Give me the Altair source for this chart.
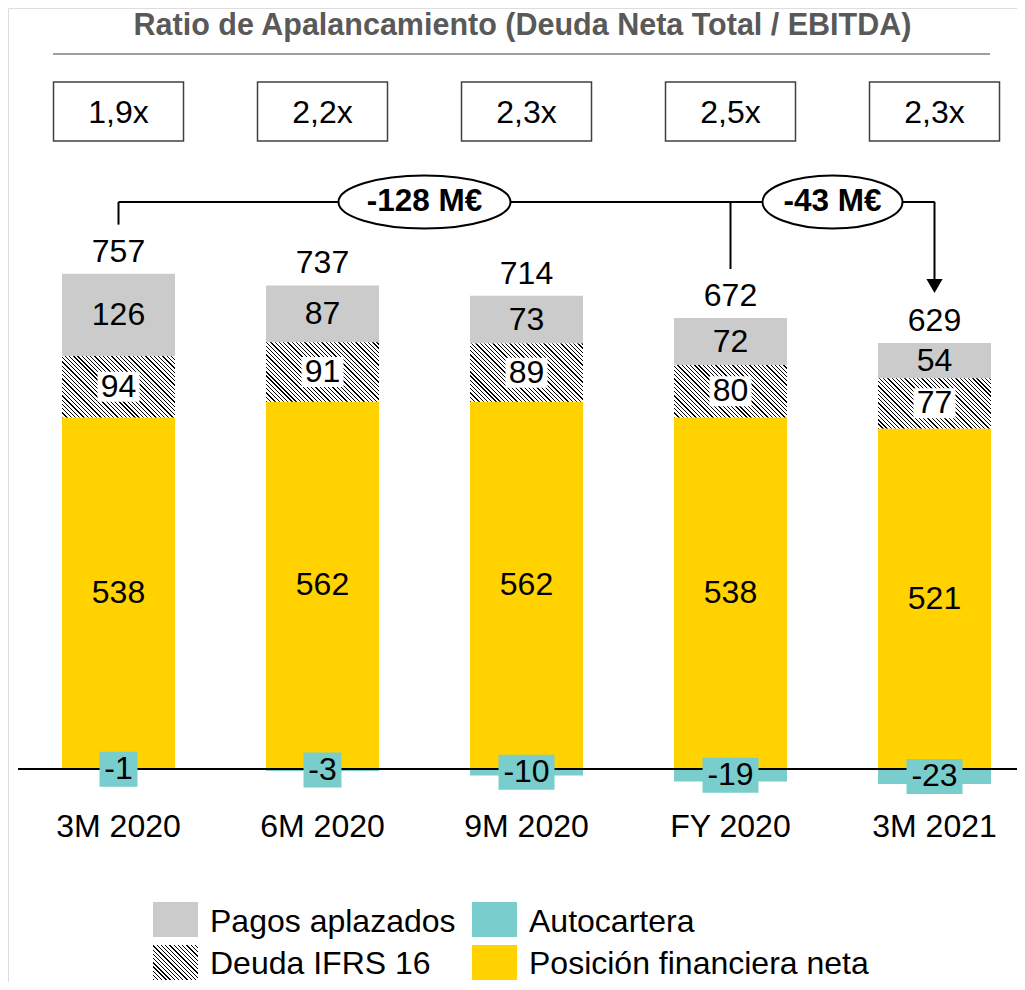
import math
import altair as alt
import pandas as pd

# ---------------- data ----------------
categories = ["3M 2020", "6M 2020", "9M 2020", "FY 2020", "3M 2021"]
posicion_financiera = [538, 562, 562, 538, 521]
deuda_ifrs16 = [94, 91, 89, 80, 77]
pagos_aplazados = [126, 87, 73, 72, 54]
autocartera = [-1, -3, -10, -19, -23]
totales = [757, 737, 714, 672, 629]
ratios = ["1,9x", "2,2x", "2,3x", "2,5x", "2,3x"]
puente_desde = ["3M 2020", "FY 2020"]
puente_hasta = ["3M 2021", "3M 2021"]
puente_etiquetas = ["-128 M€", "-43 M€"]
legend_labels = ["Pagos aplazados", "Autocartera", "Deuda IFRS 16", "Posición financiera neta"]
title_text = "Ratio de Apalancamiento (Deuda Neta Total / EBITDA)"

# ---------------- styles / layout ----------------
FONT = "Liberation Sans"
YELLOW = "#FFD200"
GRAY = "#CBCBCB"
TEAL = "#79CDCD"
W, H = 1009, 974
X_DOMAIN = [-0.5417, 4.4044]
Y_DOMAIN = [-326.0, 1164.5]
PX_X = W / (X_DOMAIN[1] - X_DOMAIN[0])
PX_Y = H / (Y_DOMAIN[1] - Y_DOMAIN[0])


def units(page_y):
    """page pixel row -> value units (layout helper for annotations)"""
    return Y_DOMAIN[1] - (page_y - 8) / PX_Y


BAR_W = 113
BAR_HALF = BAR_W / 2 / PX_X
BOX_HALF = 65 / PX_X
BRACKET_Y = units(202)
GAP_UNITS = 75
ARROW_UNITS = 87
ELLIPSE_X = [1.5, 3.5]
ELLIPSE_W = [172, 140]
ELLIPSE_H = 53

xs = alt.Scale(domain=X_DOMAIN, nice=False, zero=False)
ys = alt.Scale(domain=Y_DOMAIN, nice=False, zero=False)


def X(f):
    return alt.X(f"{f}:Q", scale=xs, axis=None)


def Y(f):
    return alt.Y(f"{f}:Q", scale=ys, axis=None)


def rect_path(w, h):
    e = h / w
    return f"M-1,{-e}L1,{-e}L1,{e}L-1,{e}Z"


def ellipse_path(w, h):
    e = h / w
    k = 0.5523
    return (f"M1,0C1,{k*e} {k},{e} 0,{e}C{-k},{e} -1,{k*e} -1,0"
            f"C-1,{-k*e} {-k},{-e} 0,{-e}C{k},{-e} 1,{-k*e} 1,0Z")


def hatch(wpx, hpx, period=3.0, ink=0.3):
    k = (wpx + hpx) / (wpx ** 2 + hpx ** 2)
    length = (wpx + hpx) / math.sqrt(2)
    stops = []
    pos = 0.0
    while pos < length:
        a = round(pos / length, 5)
        b = round(min((pos + ink * period) / length, 1.0), 5)
        stops += [{"offset": a, "color": "white"}, {"offset": a, "color": "black"},
                  {"offset": b, "color": "black"}, {"offset": b, "color": "white"}]
        pos += period
    return {"gradient": "linear", "x1": 0, "y1": 1,
            "x2": round(wpx * k, 5), "y2": round(1 - hpx * k, 5), "stops": stops}


df = pd.DataFrame({
    "cat": categories,
    "idx": list(range(len(categories))),
    "pf": posicion_financiera,
    "ifrs": deuda_ifrs16,
    "pagos": pagos_aplazados,
    "auto": autocartera,
    "total": totales,
    "ratio": ratios,
})

base = alt.Chart(df).transform_calculate(
    xl=f"datum.idx - {BAR_HALF}",
    xr=f"datum.idx + {BAR_HALF}",
    zero="0",
    s1="datum.pf",
    s2="datum.pf + datum.ifrs",
    s3="datum.pf + datum.ifrs + datum.pagos",
    m_pf="datum.pf / 2",
    m_ifrs="datum.pf + datum.ifrs / 2",
    m_pagos="datum.pf + datum.ifrs + datum.pagos / 2",
    m_auto="datum.auto / 2",
    auto_txt="'' + datum.auto",
    bx0=f"datum.idx - {BOX_HALF}",
    bx1=f"datum.idx + {BOX_HALF}",
    by0=f"{units(82)}",
    by1=f"{units(141)}",
    ry=f"{units(123)}",
    cy=f"{units(837)}",
)

layers = []
# stacked bars
layers.append(base.mark_rect(color=YELLOW).encode(x=X("xl"), x2=alt.X2("xr:Q"), y=Y("zero"), y2=alt.Y2("s1:Q")))
layers.append(base.mark_rect(color=GRAY).encode(x=X("xl"), x2=alt.X2("xr:Q"), y=Y("s2"), y2=alt.Y2("s3:Q")))
layers.append(base.mark_rect(color=TEAL).encode(x=X("xl"), x2=alt.X2("xr:Q"), y=Y("zero"), y2=alt.Y2("auto:Q")))
for i, v in enumerate(deuda_ifrs16):
    layers.append(
        base.transform_filter(f"datum.idx == {i}")
        .mark_rect(fill=hatch(BAR_W, v * PX_Y), strokeWidth=0)
        .encode(x=X("xl"), x2=alt.X2("xr:Q"), y=Y("s1"), y2=alt.Y2("s2:Q"))
    )

# zero line
layers.append(
    alt.Chart(pd.DataFrame({"zero": [0]})).mark_rule(color="black", strokeWidth=2)
    .encode(y=Y("zero"), x=alt.value(10), x2=alt.value(W))
)

# label backgrounds
layers.append(
    base.mark_point(shape=rect_path(42, 30), size=42 ** 2, filled=True, fill="white", opacity=1, strokeWidth=0)
    .encode(x=X("idx"), y=Y("m_ifrs"))
)
layers.append(
    base.transform_filter("abs(datum.auto) < 10")
    .mark_point(shape=rect_path(38, 35), size=38 ** 2, filled=True, fill=TEAL, opacity=1, strokeWidth=0)
    .encode(x=X("idx"), y=Y("m_auto"))
)
layers.append(
    base.transform_filter("abs(datum.auto) >= 10")
    .mark_point(shape=rect_path(56, 35), size=56 ** 2, filled=True, fill=TEAL, opacity=1, strokeWidth=0)
    .encode(x=X("idx"), y=Y("m_auto"))
)

# value labels
txt = dict(font=FONT, fontSize=32, color="black")
for mid, field in [("m_pf", "pf:Q"), ("m_ifrs", "ifrs:Q"), ("m_pagos", "pagos:Q"), ("m_auto", "auto_txt:N")]:
    layers.append(
        base.mark_text(baseline="middle", **txt)
        .encode(x=X("idx"), y=Y(mid), text=field)
    )
layers.append(
    base.mark_text(baseline="alphabetic", dy=-12, **txt)
    .encode(x=X("idx"), y=Y("s3"), text="total:Q")
)
# category labels
layers.append(
    base.mark_text(baseline="alphabetic", **txt).encode(x=X("idx"), y=Y("cy"), text="cat:N")
)

# ratio boxes
layers.append(
    base.mark_rect(fill="white", stroke="#404040", strokeWidth=1.5)
    .encode(x=X("bx0"), x2=alt.X2("bx1:Q"), y=Y("by0"), y2=alt.Y2("by1:Q"))
)
layers.append(
    base.mark_text(baseline="alphabetic", **txt).encode(x=X("idx"), y=Y("ry"), text="ratio:N")
)

# bridge bracket
df_b = pd.DataFrame({
    "n": list(range(len(puente_etiquetas))),
    "desde": [categories.index(c) for c in puente_desde],
    "hasta": [categories.index(c) for c in puente_hasta],
    "label": puente_etiquetas,
})
line = dict(color="black", strokeWidth=2)
layers.append(
    alt.Chart(df_b).transform_calculate(by=f"{BRACKET_Y}").mark_rule(**line)
    .encode(x=X("desde"), x2=alt.X2("hasta:Q"), y=Y("by"))
)
layers.append(
    base.transform_filter(alt.FieldOneOfPredicate(field="cat", oneOf=puente_desde))
    .transform_calculate(v0=f"datum.s3 + {GAP_UNITS}", v1=f"{BRACKET_Y}")
    .mark_rule(**line).encode(x=X("idx"), y=Y("v0"), y2=alt.Y2("v1:Q"))
)
tgt = base.transform_filter(alt.FieldOneOfPredicate(field="cat", oneOf=puente_hasta)).transform_calculate(
    v0=f"datum.s3 + {ARROW_UNITS}", v1=f"{BRACKET_Y}")
layers.append(tgt.mark_rule(**line).encode(x=X("idx"), y=Y("v0"), y2=alt.Y2("v1:Q")))
layers.append(
    tgt.mark_point(shape="triangle-down", size=260, filled=True, color="black", opacity=1)
    .encode(x=X("idx"), y=Y("v0"))
)
for i, (cx, ew) in enumerate(zip(ELLIPSE_X, ELLIPSE_W)):
    eb = alt.Chart(df_b).transform_filter(f"datum.n == {i}").transform_calculate(ex=f"{cx}", ey=f"{BRACKET_Y}")
    layers.append(
        eb.mark_point(shape=ellipse_path(ew, ELLIPSE_H), size=ew ** 2, filled=True, fill="white",
                      stroke="black", strokeWidth=2, opacity=1)
        .encode(x=X("ex"), y=Y("ey"))
    )
    layers.append(
        eb.mark_text(font=FONT, fontSize=31.5, fontWeight="bold", color="black", baseline="middle")
        .encode(x=X("ex"), y=Y("ey"), text="label:N")
    )

# title
df_t = pd.DataFrame({"t": [title_text]})
layers.append(
    alt.Chart(df_t).mark_text(font=FONT, fontSize=30.5, fontWeight="bold", color="#595959",
                              baseline="alphabetic", align="center")
    .encode(text="t:N", x=alt.value(514.5), y=alt.value(27))
)
layers.append(
    alt.Chart(df_t).mark_rule(color="#7F7F7F", strokeWidth=1.5)
    .encode(x=alt.value(45), x2=alt.value(982), y=alt.value(46))
)

# legend (manual, to support the hatched swatch)
df_leg = pd.DataFrame({"label": legend_labels})
swatch_fill = [GRAY, TEAL, hatch(45, 35), YELLOW]
for i, lab in enumerate(legend_labels):
    col, row = i % 2, i // 2
    sx = 145 + col * 319
    sy = 894 + row * 43
    sel = alt.Chart(df_leg).transform_filter(alt.FieldEqualPredicate(field="label", equal=lab))
    layers.append(
        sel.mark_rect(fill=swatch_fill[i], strokeWidth=0)
        .encode(x=alt.value(sx), x2=alt.value(sx + 45), y=alt.value(sy), y2=alt.value(sy + 35))
    )
    layers.append(
        sel.mark_text(align="left", baseline="alphabetic", **txt)
        .encode(text="label:N", x=alt.value(sx + 57), y=alt.value(924 + row * 42))
    )

chart = (
    alt.layer(*layers)
    .properties(width=W, height=H, padding=0, autosize=alt.AutoSizeParams(type="none"), background="white")
    .configure_view(strokeWidth=0)
    .configure(font=FONT)
)

chart.save("out.html", embed_options={"renderer": "svg", "actions": False})
